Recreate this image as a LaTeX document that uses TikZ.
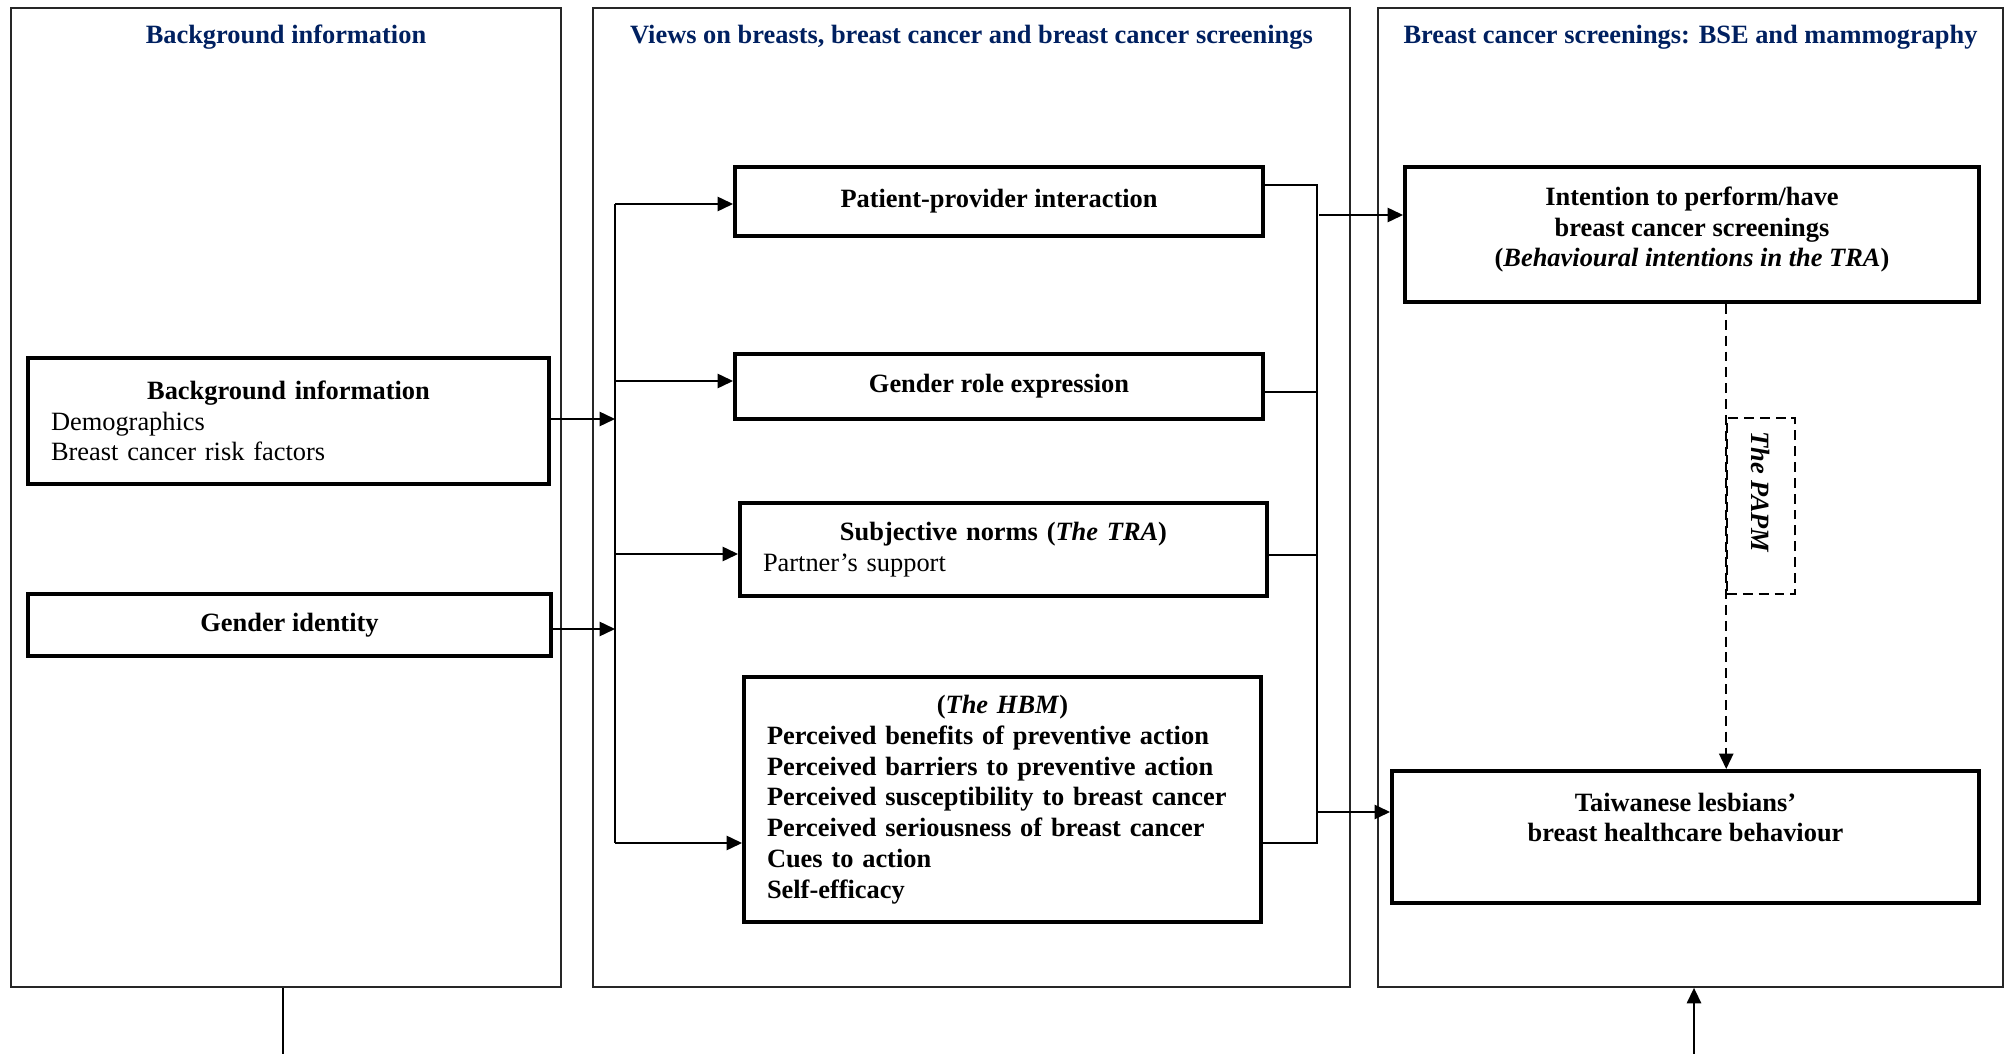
\documentclass[tikz,border=0pt]{standalone}
\usepackage{fontspec}
\setmainfont{Liberation Serif}
\usepackage{graphicx}
\usetikzlibrary{arrows.meta,calc}
\definecolor{titleblue}{RGB}{0,32,96}
\newcommand\pxu{0.4545pt}
\newcommand\basefont{\fontsize{12}{14}\selectfont}

\begin{document}
\begin{tikzpicture}[x=0.4545pt,y=-0.4545pt,
  panel/.style={draw=black!85, line width=0.8pt, inner sep=0pt},
  ttl/.style={font=\basefont\bfseries, text=titleblue, anchor=base, inner sep=0pt},
  box/.style={draw, line width=1.8pt, inner sep=0pt, font=\basefont\bfseries},
  conn/.style={line width=0.8pt},
  bus/.style={line width=0.6pt},
  tip/.style={-{Triangle[length=7pt,width=6.5pt]}},
  arr/.style={conn, tip},
  dsh/.style={line width=0.7pt, dash pattern=on 4.5pt off 2.7pt}
]
\useasboundingbox (0,0) rectangle (2009,1054);

% three column panels
\node[panel, minimum width=550*\pxu, minimum height=979*\pxu] (lp) at (286,497.5) {};
\node[panel, minimum width=757*\pxu, minimum height=979*\pxu] (mp) at (971.5,497.5) {};
\node[panel, minimum width=625*\pxu, minimum height=979*\pxu] (rp) at (1690.5,497.5) {};

\node[ttl] (lt) at ($(lp.north)+(0,36)$) {Background information};
\node[ttl] (mt) at ($(mp.north)+(0,36)$) {Views on breasts, breast cancer and breast cancer screenings};
\node[ttl] (rt) at ($(rp.north)+(0,36)$) {Breast cancer screenings: BSE and mammography};

% left column
\node[box, font=\basefont, text width=475*\pxu, align=left,
      minimum width=521*\pxu, minimum height=126*\pxu] (bg) at (288.5,421)
  {\hfill\textbf{Background information}\hfill\null\\Demographics\\Breast cancer risk factors};
\node[box, minimum width=523*\pxu, minimum height=62*\pxu] (gi) at (289.5,625) {Gender identity};

% middle column
\node[box, minimum width=528*\pxu, minimum height=69*\pxu] (pp) at (999,201.5) {Patient-provider interaction};
\node[box, minimum width=528*\pxu, minimum height=65*\pxu] (gr) at (999,386.5) {Gender role expression};
\node[box, font=\basefont, text width=481*\pxu, align=left,
      minimum width=527*\pxu, minimum height=93*\pxu] (sn) at (1003.5,549.5)
  {\hfill\textbf{Subjective norms (\textit{The TRA})}\hfill\null\\Partner’s support};
\node[box, text width=471*\pxu, align=left,
      minimum width=517*\pxu, minimum height=245*\pxu] (hbm) at (1002.5,799.5)
  {\hfill(\textit{The HBM})\hfill\null\\
   Perceived benefits of preventive action\\
   Perceived barriers to preventive action\\
   Perceived susceptibility to breast cancer\\
   Perceived seriousness of breast cancer\\
   Cues to action\\
   Self-efficacy};

% right column
\node[box, align=center, minimum width=574*\pxu, minimum height=135*\pxu] (int) at (1692,234.5)
  {Intention to perform/have\\breast cancer screenings\\(\textit{Behavioural intentions in the TRA})\rule[-7pt]{0pt}{7pt}};
\node[box, align=center, minimum width=587*\pxu, minimum height=132*\pxu] (tw) at (1685.5,837)
  {Taiwanese lesbians’\\breast healthcare behaviour\\[3.9pt]\mbox{}};
\node[draw, dsh, inner sep=0pt, minimum width=68*\pxu, minimum height=176*\pxu,
      font=\basefont\bfseries\itshape] (papm) at (1761,506)
  {\rotatebox{-90}{The PAPM\hspace{12.7pt}}};

% left column into the trunk
\coordinate (j1) at (615,419);
\coordinate (j2) at (615,629);
\draw[arr] (j1 -| bg.east) -- (j1);
\draw[arr] (j2 -| gi.east) -- (j2);

% trunk feeding the middle boxes
\coordinate (t1) at (615,204);
\coordinate (t2) at (615,381);
\coordinate (t3) at (615,554);
\coordinate (t4) at (615,843);
\draw[conn] (t1) -- (t4);
\draw[arr] (t1) -- (t1 -| pp.west);
\draw[arr] (t2) -- (t2 -| gr.west);
\draw[arr] (t3) -- (t3 -| sn.west);
\draw[arr] (t4) -- (t4 -| hbm.west);

% bus collecting the middle boxes
\coordinate (b1) at (1317,185);
\coordinate (b2) at (1317,392);
\coordinate (b3) at (1317,555);
\coordinate (b4) at (1317,843);
\draw[bus] (b1 -| pp.east) -- (b1) -- (b4) -- (b4 -| hbm.east);
\draw[bus] (b2 -| gr.east) -- (b2);
\draw[bus] (b3 -| sn.east) -- (b3);

\coordinate (o1) at (1319,215);
\coordinate (o2) at (1317,812);
\draw[arr] (o1) -- (o1 -| int.west);
\draw[arr] (o2) -- (o2 -| tw.west);

% intention to behaviour (PAPM)
\draw[dsh, tip] (int.south -| papm.west) -- (tw.north -| papm.west);

% links leaving the bottom
\coordinate (bl) at (283,1054);
\draw[conn] (bl |- lp.south) -- (bl);
\coordinate (br) at (1694,1054);
\draw[arr] (br) -- (br |- rp.south);
\end{tikzpicture}
\end{document}
